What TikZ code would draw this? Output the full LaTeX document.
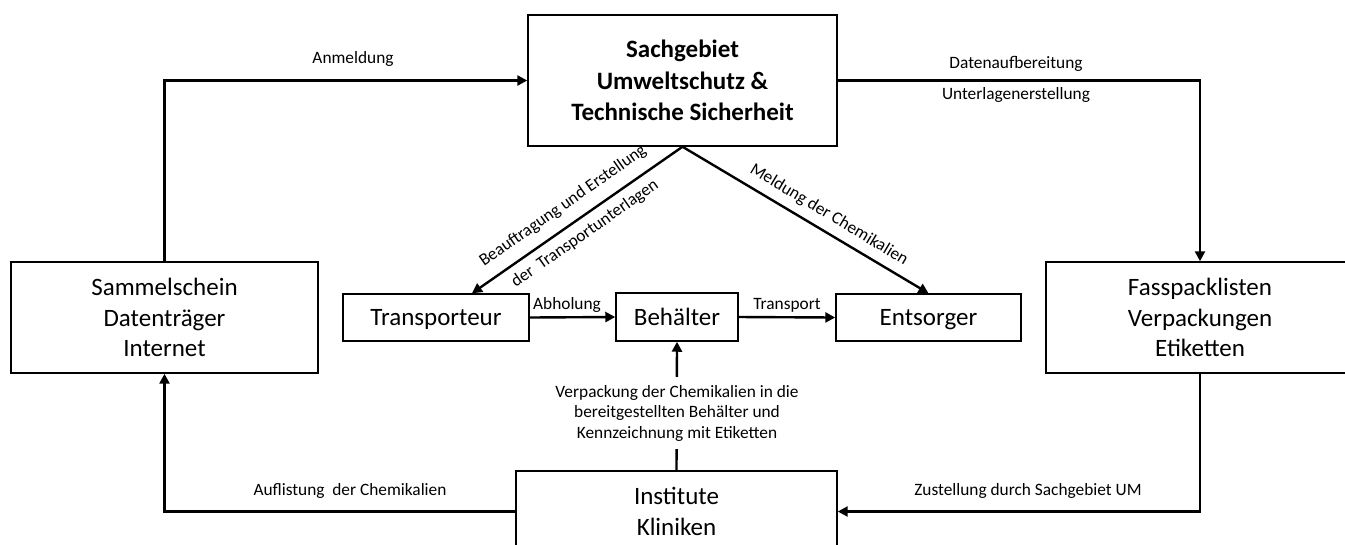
\documentclass[tikz,border=0pt]{standalone}
\usepackage{fontspec}
\setmainfont{Carlito}
\usetikzlibrary{arrows.meta,calc}
\begin{document}
\begin{tikzpicture}[x=0.75pt,y=-0.75pt,
  box/.style={draw,line width=1.1pt,inner sep=0pt,align=center,font=\fontsize{18.75}{22.9}\selectfont},
  onebox/.style={draw,line width=1.1pt,inner sep=0pt,font=\fontsize{18.75}{22.9}\selectfont,text height=12pt,text depth=0pt},
  conn/.style={line width=1.8pt,-{Triangle[length=7.5pt,width=7.5pt]}},
  lbl/.style={font=\fontsize{13}{15.4}\selectfont,inner sep=1pt,align=center},
]
\useasboundingbox (0,0) rectangle (1345,544);
% boxes
\node[box,minimum width=231.75pt,minimum height=98.25pt,font=\bfseries\fontsize{18.75}{23.6}\selectfont] (top) at (682.5,80.5) {Sachgebiet\\Umweltschutz \&\\Technische Sicherheit};
\node[box,minimum width=230.25pt,minimum height=83.25pt] (sam) at (164.5,317.5) {Sammelschein\\Datenträger\\Internet};
\node[box,minimum width=231pt,minimum height=83.25pt] (fas) at (1200,317.5) {Fasspacklisten\\Verpackungen\\Etiketten};
\node[onebox,minimum width=139.5pt,minimum height=35.25pt] (trans) at (436,317.5) {Transporteur};
\node[onebox,minimum width=91.5pt,minimum height=36pt] (beh) at (677,317) {Behälter};
\node[onebox,minimum width=138.75pt,minimum height=35.25pt] (ent) at (928.5,317.5) {Entsorger};
\node[box,minimum width=240.75pt,minimum height=60.75pt] (inst) at (676.5,511.5) {Institute\\Kliniken};
% connectors
\draw[conn] (sam.north) |- (top.west);
\draw[conn] (top.east) -| (fas.north);
\draw[conn] (top.south) -- ($(trans.north)+(36,0)$);
\draw[conn] (top.south) -- (ent.north);
\draw[conn] (trans.east) -- (beh.west);
\draw[conn] (beh.east) -- (ent.west);
\draw[conn] (inst.north) -- (beh.south);
\draw[conn] (inst.west) -| (sam.south);
\draw[conn] (fas.south) |- (inst.east);
% labels
\node[lbl] (l1) at (353,59) {Anmeldung};
\node[lbl] (l2) at (1016,64) {Datenaufbereitung};
\node[lbl] (l3) at (1016,95) {Unterlagenerstellung};
\node[lbl,rotate=35] (l4) at (563,206) {Beauftragung und Erstellung};
\node[lbl,rotate=35] (l5) at (585,234) {der~ Transportunterlagen};
\node[lbl,rotate=-31] (l6) at (829,215) {Meldung der Chemikalien};
\node[lbl] (l7) at (567,305) {Abholung};
\node[lbl] (l8) at (787,305) {Transport};
\node[lbl,fill=white,inner sep=6pt] (l9) at (677,413) {Verpackung der Chemikalien in die\\bereitgestellten Behälter und\\Kennzeichnung mit Etiketten};
\node[lbl] (l10) at (350,491) {Auflistung~ der Chemikalien};
\node[lbl] (l11) at (1028,491) {Zustellung durch Sachgebiet UM};
\end{tikzpicture}
\end{document}
